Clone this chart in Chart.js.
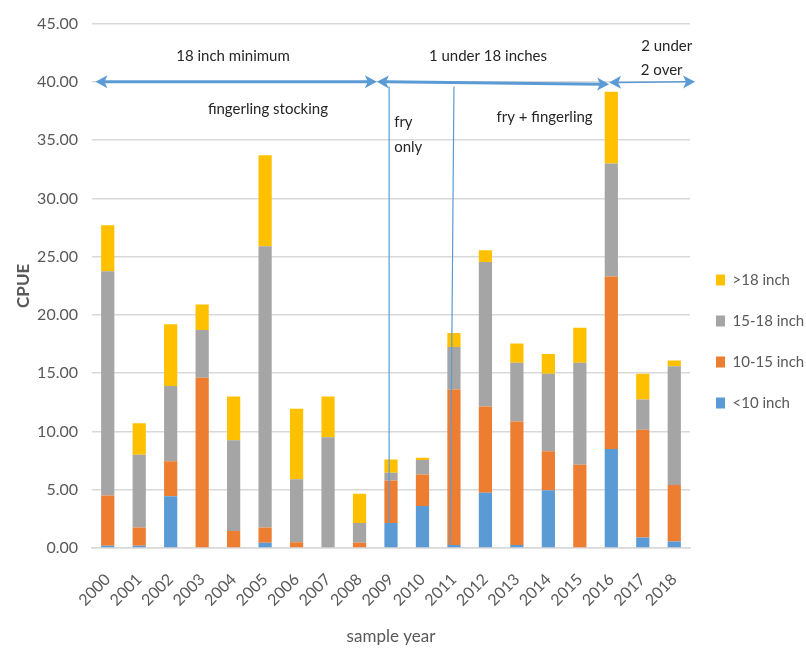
<!DOCTYPE html>
<html>
<head>
<meta charset="utf-8">
<script src="https://cdn.jsdelivr.net/npm/chart.js@4.4.0/dist/chart.umd.min.js"></script>
<style>
  html, body { margin: 0; padding: 0; background: #fff; }
  #wrap { width: 806px; height: 651px; }
</style>
</head>
<body>
<div id="wrap"><canvas id="c" width="806" height="651"></canvas></div>
<script>
// Sample years and CPUE by length class (stacked)
const years = ['2000','2001','2002','2003','2004','2005','2006','2007','2008','2009',
               '2010','2011','2012','2013','2014','2015','2016','2017','2018'];
const under10   = [0.20, 0.20, 4.45, 0.00, 0.00, 0.45, 0.00, 0.00, 0.00, 2.15,
                   3.60, 0.25, 4.75, 0.25, 4.95, 0.00, 8.50, 0.90, 0.55];
const from10to15 = [4.30, 1.55, 3.00, 14.60, 1.45, 1.30, 0.50, 0.00, 0.45, 3.65,
                   2.70, 13.35, 7.40, 10.60, 3.35, 7.15, 14.80, 9.25, 4.85];
const from15to18 = [19.25, 6.25, 6.45, 4.10, 7.80, 24.15, 5.40, 9.50, 1.70, 0.65,
                   1.25, 3.65, 12.40, 5.05, 6.65, 8.75, 9.70, 2.60, 10.20];
const over18    = [3.95, 2.70, 5.30, 2.20, 3.75, 7.80, 6.05, 3.50, 2.50, 1.15,
                   0.20, 1.20, 1.00, 1.65, 1.70, 3.00, 6.15, 2.20, 0.50];
const seriesNames = ['<10 inch', '10-15 inch', '15-18 inch', '>18 inch'];
const yTicks = [0, 5, 10, 15, 20, 25, 30, 35, 40, 45];

// Regulation periods (double arrows), stocking notes and divider lines,
// placed in data units: x = category index, y = CPUE
const periodArrows = [
  { x1: -0.39, x2: 8.55, y1: 40.0, y2: 40.0, w: 3 },
  { x1: 8.55, x2: 15.93, y1: 40.0, y2: 39.8, w: 3 },
  { x1: 15.93, x2: 18.66, y1: 39.95, y2: 40.0, w: 1.5 }
];
const dividers = [
  { x1: 8.94, y1: 39.6, x2: 8.94, y2: 2.15 },
  { x1: 11.0, y1: 39.6, x2: 10.88, y2: 0.25 }
];
const notes = [
  { text: '18 inch minimum', x: 3.98, y: 42.2, align: 'center' },
  { text: 'fingerling stocking', x: 5.09, y: 37.7, align: 'center' },
  { text: '1 under 18 inches', x: 12.08, y: 42.2, align: 'center' },
  { text: '2 under', x: 17.76, y: 43.1, align: 'center' },
  { text: '2 over', x: 17.6, y: 41.0, align: 'center' },
  { text: 'fry', x: 9.1, y: 36.5, align: 'left' },
  { text: 'only', x: 9.1, y: 34.4, align: 'left' },
  { text: 'fry + fingerling', x: 13.88, y: 37.0, align: 'center' }
];

const FONT = 'Lato, "Liberation Sans", sans-serif';
const TEXT = '#595959';
const colors = ['#5B9BD5', '#ED7D31', '#A5A5A5', '#FFC000'];

function arrowHead(ctx, tx, ty, dx, dy, len, half) {
  const m = Math.hypot(dx, dy);
  const ux = dx / m, uy = dy / m;
  const bx = tx - ux * len, by = ty - uy * len;
  ctx.beginPath();
  ctx.moveTo(tx, ty);
  ctx.lineTo(bx - uy * half, by + ux * half);
  ctx.lineTo(bx + ux * 3, by + uy * 3);
  ctx.lineTo(bx + uy * half, by - ux * half);
  ctx.closePath();
  ctx.fill();
}

const notesPlugin = {
  id: 'periodNotes',
  afterDatasetsDraw(chart) {
    const { ctx, scales: { x, y } } = chart;
    ctx.save();
    // thin divider lines
    ctx.strokeStyle = '#5B9BD5';
    ctx.lineWidth = 1.2;
    dividers.forEach(d => {
      ctx.beginPath();
      ctx.moveTo(x.getPixelForValue(d.x1), y.getPixelForValue(d.y1));
      ctx.lineTo(x.getPixelForValue(d.x2), y.getPixelForValue(d.y2));
      ctx.stroke();
    });
    // double-headed arrows
    ctx.strokeStyle = '#5B9BD5';
    ctx.fillStyle = '#5B9BD5';
    periodArrows.forEach(a => {
      const ax = x.getPixelForValue(a.x1), ay = y.getPixelForValue(a.y1);
      const bx = x.getPixelForValue(a.x2), by = y.getPixelForValue(a.y2);
      ctx.lineWidth = a.w;
      ctx.beginPath();
      ctx.moveTo(ax + 8, ay);
      ctx.lineTo(bx - 8, by);
      ctx.stroke();
      arrowHead(ctx, bx, by, bx - ax, by - ay, 12, 6.5);
      arrowHead(ctx, ax, ay, ax - bx, ay - by, 12, 6.5);
    });
    // labels
    ctx.fillStyle = '#262626';
    ctx.font = '15px ' + FONT;
    ctx.textBaseline = 'middle';
    notes.forEach(n => {
      ctx.textAlign = n.align;
      ctx.fillText(n.text, x.getPixelForValue(n.x), y.getPixelForValue(n.y));
    });
    ctx.restore();
  }
};

// nudge the right-hand legend column down a little
const legendShift = {
  id: 'legendShift',
  afterLayout(chart) {
    if (chart.legend) {
      chart.legend.top += 10;
      chart.legend.bottom += 10;
    }
  }
};

new Chart(document.getElementById('c'), {
  type: 'bar',
  data: {
    labels: years,
    datasets: [under10, from10to15, from15to18, over18].map((vals, i) => ({
      label: seriesNames[i],
      data: vals,
      backgroundColor: colors[i],
      borderWidth: 0,
      barPercentage: 0.42,
      categoryPercentage: 1.0
    }))
  },
  options: {
    responsive: false,
    animation: false,
    layout: { padding: { top: 12, right: 0, bottom: 0, left: 0 } },
    plugins: {
      legend: {
        position: 'right',
        reverse: true,
        maxWidth: 116,
        labels: {
          boxWidth: 9,
          boxHeight: 11,
          padding: 26,
          color: TEXT,
          font: { family: FONT, size: 15 }
        }
      },
      tooltip: { enabled: false }
    },
    scales: {
      x: {
        stacked: true,
        grid: { display: false, drawTicks: false },
        border: { display: true, color: '#d9d9d9', width: 1.5 },
        ticks: {
          color: TEXT,
          font: { family: FONT, size: 16 },
          autoSkip: false,
          maxRotation: 45,
          minRotation: 45,
          padding: 22
        },
        title: {
          display: true,
          text: 'sample year',
          color: TEXT,
          font: { family: FONT, size: 17 },
          padding: { top: 4, bottom: 4 }
        },
        afterFit(s) { s.height = 103; }
      },
      y: {
        stacked: true,
        min: 0,
        max: 45,
        afterBuildTicks(s) { s.ticks = yTicks.map(v => ({ value: v })); },
        grid: { color: '#d9d9d9', lineWidth: 1.5, drawTicks: false },
        border: { display: false },
        ticks: {
          color: TEXT,
          font: { family: FONT, size: 16 },
          padding: 14,
          callback: v => Number(v).toFixed(2)
        },
        title: {
          display: true,
          text: 'CPUE',
          color: TEXT,
          font: { family: FONT, size: 17, weight: 'bold' },
          padding: { top: 13, bottom: 0 }
        },
        afterFit(s) { s.width = 92; }
      }
    }
  },
  plugins: [notesPlugin, legendShift]
});
</script>
</body>
</html>
